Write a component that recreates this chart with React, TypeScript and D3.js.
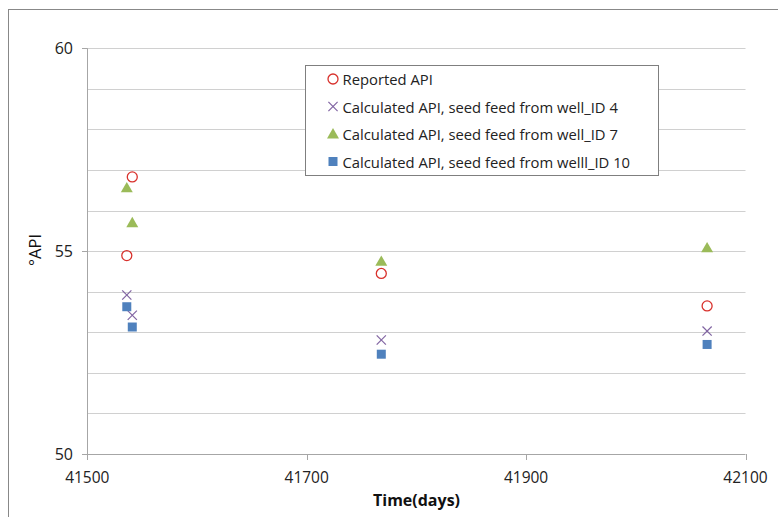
import React from "react";
import * as d3 from "d3";

const seriesNames = [
  "Reported API",
  "Calculated API, seed feed from well_ID 4",
  "Calculated API, seed feed from well_ID 7",
  "Calculated API, seed feed from welll_ID 10",
];
const times = [41536, 41541, 41768, 42065];
const reportedAPI = [54.89, 56.83, 54.45, 53.65];
const calcWell4 = [53.92, 53.42, 52.81, 53.03];
const calcWell7 = [56.56, 55.7, 54.75, 55.08];
const calcWell10 = [53.63, 53.13, 52.46, 52.7];
const xTicks = [41500, 41700, 41900, 42100];
const yMajorTicks = [50, 55, 60];
const yGridTicks = [51, 52, 53, 54, 55, 56, 57, 58, 59, 60];

const W = 778;
const H = 517;
const FONT = "'Open Sans', 'Noto Sans', sans-serif";

const colors = {
  circle: "#d8312c",
  x: "#8064a2",
  tri: "#9bbb59",
  sq: "#4f81bd",
};

function Marker({ kind, x, y }: { kind: string; x: number; y: number }) {
  if (kind === "circle")
    return <circle cx={x} cy={y} r={5} fill="none" stroke={colors.circle} strokeWidth={1.3} />;
  if (kind === "x") {
    const s = 4.6;
    return (
      <g stroke={colors.x} strokeWidth={1.2}>
        <line x1={x - s} y1={y - s} x2={x + s} y2={y + s} />
        <line x1={x - s} y1={y + s} x2={x + s} y2={y - s} />
      </g>
    );
  }
  if (kind === "tri") {
    const p = d3.symbol().type(d3.symbolTriangle).size(62)();
    return <path d={p || ""} transform={`translate(${x},${y + 1})`} fill={colors.tri} />;
  }
  return <rect x={x - 4.5} y={y - 4.5} width={9} height={9} fill={colors.sq} />;
}

export default function App() {
  const x = d3.scaleLinear().domain([41500, 42100]).range([87.3, 745.5]);
  const y = d3.scaleLinear().domain([50, 60]).range([454, 48.3]);

  const series = [
    { kind: "circle", values: reportedAPI },
    { kind: "x", values: calcWell4 },
    { kind: "tri", values: calcWell7 },
    { kind: "sq", values: calcWell10 },
  ];
  const legendRows = [79, 106.5, 134, 161.5];

  return (
    <svg
      width={W}
      height={H}
      style={{ position: "absolute", left: 0, top: 0, background: "#fff" }}
      fontFamily={FONT}
    >
      <rect x={0} y={0} width={W} height={H} fill="#fff" />
      <rect x={8.5} y={9.5} width={900} height={700} fill="none" stroke="#888" strokeWidth={1} />

      {/* gridlines */}
      {yGridTicks.map((t) => (
        <line
          key={"g" + t}
          x1={x(41500)}
          x2={x(42100)}
          y1={Math.round(y(t)) + 0.5}
          y2={Math.round(y(t)) + 0.5}
          stroke="#d0d0d0"
          strokeWidth={1.2}
        />
      ))}

      {/* y axis */}
      <line x1={87.5} x2={87.5} y1={y(60)} y2={y(50)} stroke="#a6a6a6" />
      {yMajorTicks.map((t) => (
        <g key={"yt" + t}>
          <line x1={82} x2={87.5} y1={Math.round(y(t)) + 0.5} y2={Math.round(y(t)) + 0.5} stroke="#a6a6a6" />
          <text
            x={73}
            y={y(t)}
            textAnchor="end"
            dominantBaseline="central"
            fontSize={16}
            fill="#222"
          >
            {t}
          </text>
        </g>
      ))}

      {/* x axis */}
      <line x1={x(41500)} x2={x(42100)} y1={454.5} y2={454.5} stroke="#a6a6a6" strokeWidth={1.2} />
      {xTicks.map((t) => (
        <g key={"xt" + t}>
          <line x1={Math.round(x(t)) + 0.5} x2={Math.round(x(t)) + 0.5} y1={454} y2={460} stroke="#a6a6a6" />
          <text x={x(t)} y={482.5} textAnchor="middle" fontSize={15.5} fill="#222">
            {t}
          </text>
        </g>
      ))}

      {/* axis titles */}
      <text x={416.5} y={506} textAnchor="middle" fontSize={16} fontWeight="bold" fill="#111">
        Time(days)
      </text>
      <text
        transform={`translate(41,250) rotate(-90)`}
        textAnchor="middle"
        fontSize={16.5}
        fill="#111"
      >
        °API
      </text>

      {/* data */}
      {series.map((s) =>
        s.values.map((v, i) => (
          <Marker key={s.kind + i} kind={s.kind} x={x(times[i])} y={y(v)} />
        ))
      )}

      {/* legend */}
      <rect x={305.5} y={65.5} width={353} height={110} fill="#fff" stroke="#7f7f7f" strokeWidth={1} />
      {series.map((s, i) => (
        <g key={"lg" + i}>
          <Marker kind={s.kind} x={333} y={legendRows[i]} />
          <text x={342.5} y={legendRows[i]} dominantBaseline="central" fontSize={14.8} fill="#222">
            {seriesNames[i]}
          </text>
        </g>
      ))}
    </svg>
  );
}
